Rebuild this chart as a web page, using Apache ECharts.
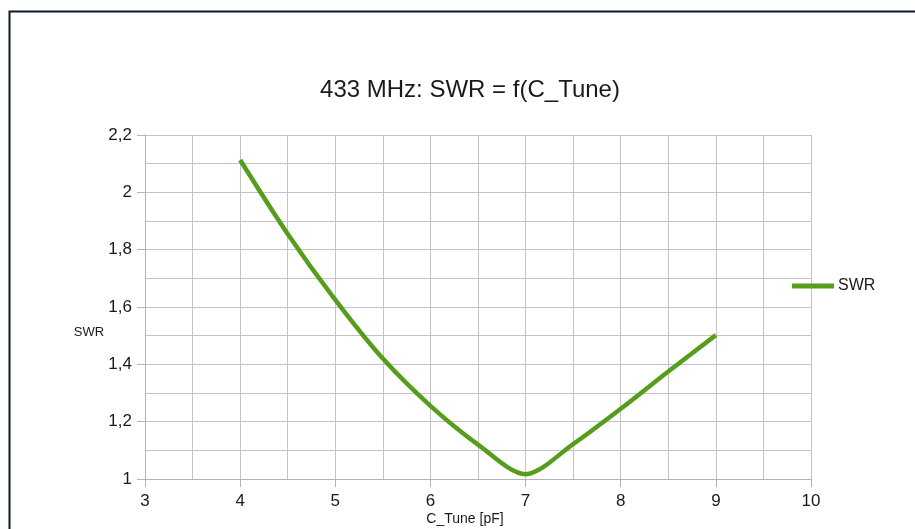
<!DOCTYPE html>
<html>
<head>
<meta charset="utf-8">
<script src="https://cdn.jsdelivr.net/npm/echarts@6/dist/echarts.min.js"></script>
<style>
html,body{margin:0;padding:0;background:#fff;}
#c{width:915px;height:529px;}
</style>
</head>
<body>
<div id="c"></div>
<script>
const titleText = "433 MHz: SWR = f(C_Tune)";
const xName = "C_Tune [pF]";
const yName = "SWR";
const seriesName = "SWR";
const cTune = [4, 4.5, 5, 5.5, 6, 6.5, 7, 7.5, 8, 8.5, 9];
const swr = [2.113, 1.855, 1.625, 1.42, 1.255, 1.12, 1.017, 1.122, 1.245, 1.375, 1.502];

const font = "'Liberation Sans', Arial, sans-serif";
const chart = echarts.init(document.getElementById('c'));
const gridColor = '#c3c3c3';
chart.setOption({
  animation: false,
  backgroundColor: '#fff',
  title: {
    text: titleText,
    left: 465, top: 73, textAlign: 'center',
    textStyle: {fontFamily: font, fontSize: 24, fontWeight: 'normal', color: '#1a1a1a'}
  },
  legend: {
    data: [seriesName],
    left: 787, top: 273,
    itemWidth: 42, itemHeight: 5, itemGap: 5,
    icon: 'rect',
    textStyle: {fontFamily: font, fontSize: 16, color: '#1a1a1a', padding: [0,0,0,-1]}
  },
  grid: {left: 145, right: 104, top: 135, bottom: 50, containLabel: false},
  xAxis: {
    type: 'value', min: 3, max: 10, interval: 1,
    axisLine: {show: true, lineStyle: {color: '#b3b3b3', width: 1}},
    axisTick: {show: true, length: 8, lineStyle: {color: '#b3b3b3'}},
    minorTick: {show: false, splitNumber: 2},
    splitLine: {show: true, lineStyle: {color: gridColor, width: 1}},
    minorSplitLine: {show: true, lineStyle: {color: gridColor, width: 1}},
    axisLabel: {fontFamily: font, fontSize: 17, color: '#1a1a1a', margin: 14}
  },
  yAxis: {
    type: 'value', min: 1, max: 2.2, interval: 0.2,
    axisLine: {show: true, lineStyle: {color: '#b3b3b3', width: 1}},
    axisTick: {show: true, length: 8, lineStyle: {color: '#b3b3b3'}},
    minorTick: {show: false, splitNumber: 2},
    splitLine: {show: true, lineStyle: {color: gridColor, width: 1}},
    minorSplitLine: {show: true, lineStyle: {color: gridColor, width: 1}},
    axisLabel: {fontFamily: font, fontSize: 17, color: '#1a1a1a', margin: 13,
      formatter: v => String(Math.round(v*10)/10).replace('.', ',')}
  },
  graphic: [
    {type: 'rect', left: 7, top: 9, shape: {width: 1000, height: 600},
     style: {fill: 'none', stroke: '#0b1a33', lineWidth: 2}, z: 100, silent: true},
    {type: 'text', x: 89, y: 332, style: {text: yName, font: "13px 'Liberation Sans', Arial, sans-serif", fill: '#1a1a1a', align: 'center', verticalAlign: 'middle'}},
    {type: 'text', x: 465, y: 519, style: {text: xName, font: "14px 'Liberation Sans', Arial, sans-serif", fill: '#1a1a1a', align: 'center', verticalAlign: 'middle'}}
  ],
  series: [{
    name: seriesName, type: 'line',
    data: cTune.map((x, i) => [x, swr[i]]),
    smooth: 0.3,
    showSymbol: false,
    lineStyle: {color: '#579d1c', width: 4.5},
    itemStyle: {color: '#579d1c'}
  }]
});
</script>
</body>
</html>
